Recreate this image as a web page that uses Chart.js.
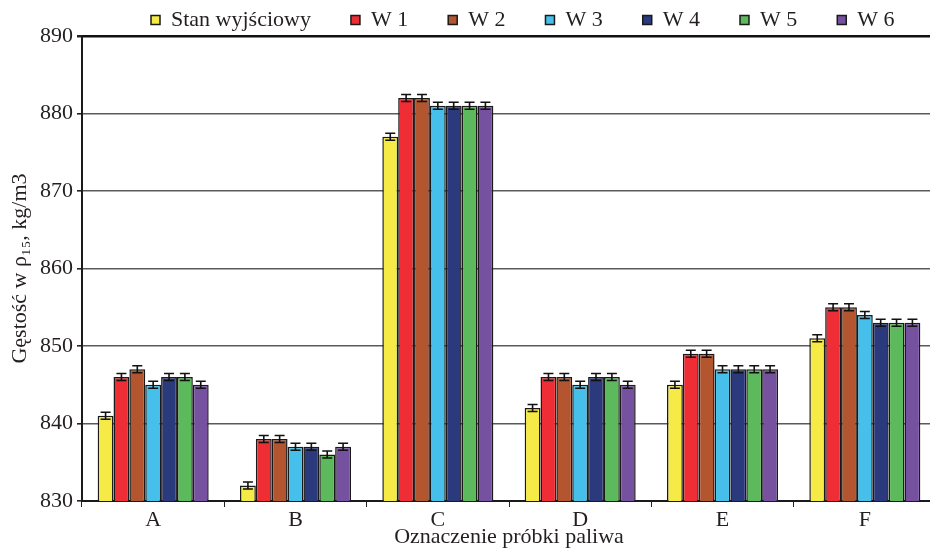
<!DOCTYPE html>
<html>
<head>
<meta charset="utf-8">
<script src="https://cdn.jsdelivr.net/npm/chart.js@4.4.1/dist/chart.umd.min.js"></script>
<style>
  html, body { margin: 0; padding: 0; background: #ffffff; overflow: hidden; }
  #wrap { position: relative; width: 936px; height: 548px; }
</style>
</head>
<body>
<div id="wrap"><canvas id="c"></canvas></div>
<script>
// ---- data ----
const categories = ['A', 'B', 'C', 'D', 'E', 'F'];
const seriesNames = ['Stan wyjściowy', 'W 1', 'W 2', 'W 3', 'W 4', 'W 5', 'W 6'];
const stanWyjsciowy = [841, 832, 877, 842, 845, 851];
const w1 = [846, 838, 882, 846, 849, 855];
const w2 = [847, 838, 882, 846, 849, 855];
const w3 = [845, 837, 881, 845, 847, 854];
const w4 = [846, 837, 881, 846, 847, 853];
const w5 = [846, 836, 881, 846, 847, 853];
const w6 = [845, 837, 881, 845, 847, 853];
const errorHalf = 0.45;
const yTicks = [830, 840, 850, 860, 870, 880, 890];

const seriesValues = [stanWyjsciowy, w1, w2, w3, w4, w5, w6];
const seriesColors = ['#f6ea47', '#ee2d35', '#b3552f', '#46c0ea', '#2b3a7c', '#5dba5c', '#7551a0'];

const FONT = "'Liberation Serif', 'Times New Roman', serif";
const TXT = '#231f20';

const errorBars = {
  id: 'errorBars',
  afterDatasetsDraw(chart) {
    const ctx = chart.ctx, y = chart.scales.y;
    ctx.save();
    ctx.strokeStyle = '#111';
    ctx.lineWidth = 1.6;
    chart.data.datasets.forEach((ds, i) => {
      const meta = chart.getDatasetMeta(i);
      if (meta.hidden) return;
      meta.data.forEach((bar, j) => {
        const v = ds.data[j];
        const yt = y.getPixelForValue(v + errorHalf);
        const yb = y.getPixelForValue(v - errorHalf);
        const x = bar.x, hw = 5;
        ctx.beginPath();
        ctx.moveTo(x, yt); ctx.lineTo(x, yb);
        ctx.moveTo(x - hw, yt); ctx.lineTo(x + hw, yt);
        ctx.moveTo(x - hw, yb); ctx.lineTo(x + hw, yb);
        ctx.stroke();
      });
    });
    ctx.restore();
  }
};

const legendPlace = {
  id: 'legendPlace',
  afterLayout(chart) {
    const lg = chart.legend;
    if (!lg) return;
    lg.left = 111;
    lg.right = 1200;
    lg.top = -31;
  }
};

new Chart(document.getElementById('c'), {
  type: 'bar',
  data: {
    labels: categories,
    datasets: seriesNames.map((name, i) => ({
      label: name,
      data: seriesValues[i],
      backgroundColor: seriesColors[i],
      borderColor: '#1a1a1a',
      borderWidth: 1.5,
      categoryPercentage: 0.78,
      barPercentage: 1.0
    }))
  },
  options: {
    responsive: true,
    maintainAspectRatio: false,
    animation: false,
    layout: { padding: { left: 0, right: 0, top: 0, bottom: 0 } },
    plugins: {
      legend: {
        position: 'top',
        align: 'start',
        maxHeight: 36,
        labels: {
          boxWidth: 9,
          boxHeight: 9,
          padding: 40,
          color: TXT,
          font: { family: FONT, size: 22 }
        }
      },
      tooltip: { enabled: false }
    },
    scales: {
      x: {
        offset: true,
        grid: { display: true, drawOnChartArea: false, drawTicks: true, tickLength: 6, tickColor: '#222', offset: true },
        border: { display: true, color: '#1a1a1a', width: 2 },
        ticks: { color: TXT, font: { family: FONT, size: 22 }, padding: 0 },
        title: { display: true, text: 'Oznaczenie próbki paliwa', color: TXT, font: { family: FONT, size: 22, lineHeight: 1.0 }, padding: { top: 0, bottom: 0 } },
        afterFit: (s) => { s.height = 47; }
      },
      y: {
        min: yTicks[0],
        max: yTicks[yTicks.length - 1],
        afterBuildTicks: (s) => { s.ticks = yTicks.map(v => ({ value: v })); },
        grid: {
          color: (c) => (c.tick && c.tick.value === 890) ? '#111' : '#5a5a5a',
          lineWidth: (c) => (c.tick && c.tick.value === 890) ? 2.5 : 1.6,
          tickColor: '#222',
          tickLength: 5
        },
        border: { display: true, color: '#1a1a1a', width: 2 },
        ticks: { color: TXT, font: { family: FONT, size: 22 }, padding: 4 },
        title: { display: true, text: 'Gęstość w ρ₁₅, kg/m3', color: TXT, font: { family: FONT, size: 22, lineHeight: 1.0 }, padding: { top: 9, bottom: 0 } },
        afterFit: (s) => { s.width = 82; }
      }
    }
  },
  plugins: [errorBars, legendPlace]
});
</script>
</body>
</html>
